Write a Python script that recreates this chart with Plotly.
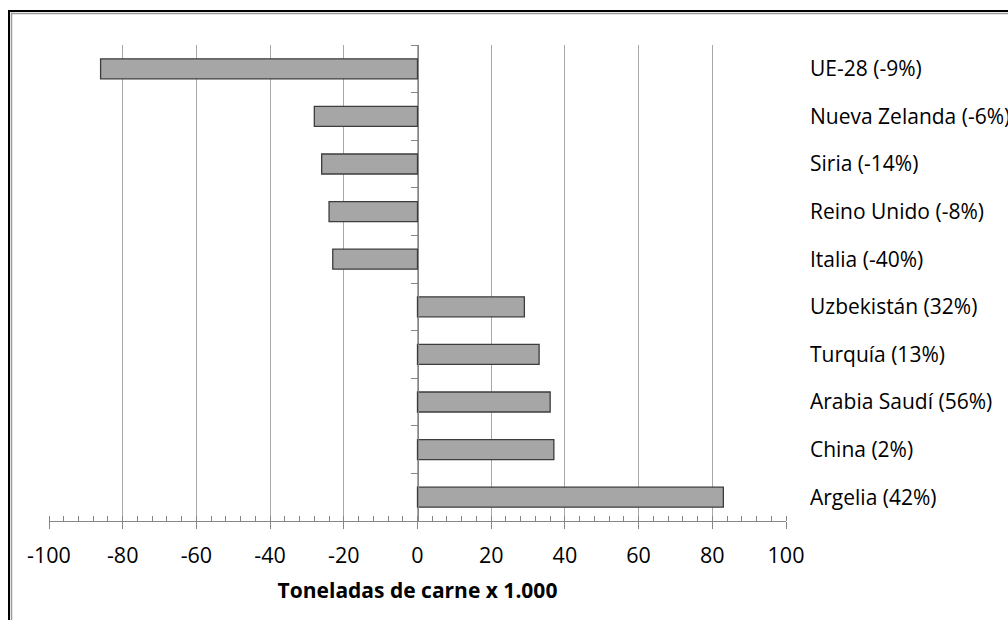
import plotly.graph_objects as go

countries = ["UE-28 (-9%)", "Nueva Zelanda (-6%)", "Siria (-14%)", "Reino Unido (-8%)",
             "Italia (-40%)", "Uzbekistán (32%)", "Turquía (13%)", "Arabia Saudí (56%)",
             "China (2%)", "Argelia (42%)"]
values = [-86, -28, -26, -24, -23, 29, 33, 36, 37, 83]
x_ticks = [-100, -80, -60, -40, -20, 0, 20, 40, 60, 80, 100]
x_tick_labels = ["-100", "-80", "-60", "-40", "-20", "0", "20", "40", "60", "80", "100"]
x_title = "Toneladas de carne x 1.000"

W, H = 1008, 620
L, R, T, B = 49, 222, 45, 99
FONT = "Open Sans"
AXIS_C = "#868686"

n = len(countries)
fig = go.Figure()
fig.add_trace(go.Bar(
    x=values, y=countries, orientation="h", width=0.42,
    marker=dict(color="#a6a6a6", line=dict(color="#3c3c3c", width=1.3)),
    showlegend=False, hoverinfo="x+y",
))
# helper invisible trace so the category-boundary axis at x=0 is drawn
fig.add_trace(go.Scatter(x=[0], y=[0], yaxis="y2", mode="markers",
                         marker=dict(opacity=0), showlegend=False, hoverinfo="skip"))

pw = W - L - R
ph = H - T - B
def px_x(p):
    return (p - L) / pw
def px_y(p):
    return (H - B - p) / ph

def frame_line(x0, y0, x1, y1, color, width):
    return dict(type="line", xref="paper", yref="paper",
                x0=px_x(x0), y0=px_y(y0), x1=px_x(x1), y1=px_y(y1),
                line=dict(color=color, width=width), layer="above")

fig.update_layout(
    width=W, height=H,
    margin=dict(l=L, r=R, t=T, b=B, autoexpand=False),
    paper_bgcolor="white", plot_bgcolor="white",
    font=dict(family=FONT, size=20, color="#000000"),
    xaxis=dict(
        range=[x_ticks[0], x_ticks[-1]], tickvals=x_ticks, ticktext=x_tick_labels,
        showgrid=True, gridcolor="#a8a8a8", gridwidth=1,
        ticks="outside", ticklen=7, tickcolor=AXIS_C, tickwidth=1,
        showline=True, linecolor=AXIS_C, linewidth=1,
        zeroline=False,
        minor=dict(ticks="inside", dtick=4, ticklen=5, tickcolor=AXIS_C, showgrid=False),
        tickfont=dict(family=FONT, size=21.5), ticklabelstandoff=8,
        title=dict(text="<b>" + x_title + "</b>", font=dict(family=FONT, size=21), standoff=15),
    ),
    yaxis=dict(
        type="category", categoryarray=countries[::-1], range=[-0.5, n - 0.5],
        side="right", showgrid=False, ticks="", showline=False, zeroline=False,
        tickfont=dict(family=FONT, size=21), ticklabelstandoff=23,
    ),
    yaxis2=dict(
        overlaying="y", anchor="free", position=(0 - x_ticks[0]) / (x_ticks[-1] - x_ticks[0]),
        side="left", range=[-0.5, n - 0.5],
        tickvals=[i - 0.5 for i in range(n + 1)],
        ticks="outside", ticklen=7, tickcolor=AXIS_C, tickwidth=1,
        showline=True, linecolor=AXIS_C, linewidth=1,
        showticklabels=False, showgrid=False, zeroline=False,
    ),
    shapes=[
        frame_line(9, 11, 1400, 11, "#000000", 2),
        frame_line(9, 10, 9, 900, "#000000", 2),
        frame_line(11.5, 13.5, 1400, 13.5, "#9a9a9a", 1.5),
        frame_line(11.5, 12.5, 11.5, 900, "#9a9a9a", 1.5),
    ],
)

fig.write_html("out.html")
